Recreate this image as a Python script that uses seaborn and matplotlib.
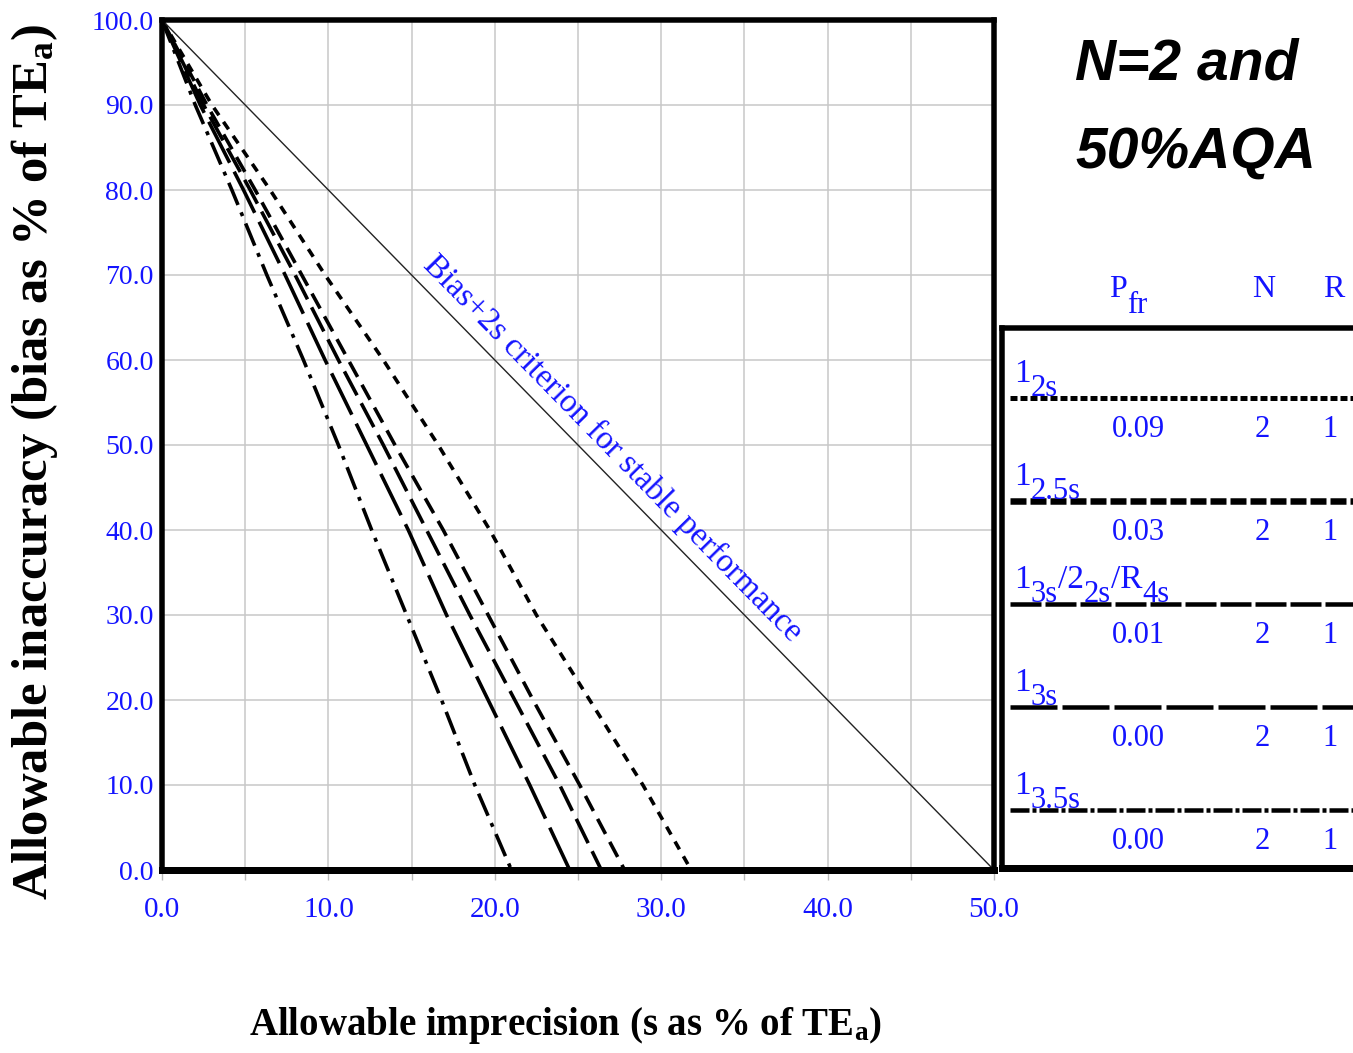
import matplotlib
matplotlib.use("Agg")
import matplotlib.pyplot as plt
import seaborn as sns
import numpy as np
import pandas as pd
from matplotlib.ticker import MultipleLocator, FormatStrFormatter

# ---------------- data ----------------
y_levels = [100, 90, 80, 70, 60, 50, 40, 30, 20, 10, 0]
x_12s    = [0, 3.0, 6.5, 9.8, 13.3, 16.6, 19.7, 22.5, 25.7, 28.9, 31.8]
x_125s   = [0, 2.7, 5.6, 8.4, 11.2, 14.0, 16.9, 19.6, 22.3, 25.1, 27.8]
x_multi  = [0, 2.5, 5.3, 8.0, 10.6, 13.3, 15.9, 18.5, 21.2, 23.9, 26.4]
x_13s    = [0, 2.3, 4.9, 7.4, 9.8, 12.3, 14.8, 17.1, 19.6, 22.1, 24.5]
x_135s   = [0, 2.0, 4.2, 6.3, 8.5, 10.6, 12.6, 14.7, 16.8, 18.8, 21.0]

bias_x = [0, 50]
bias_y = [100, 0]

rule_labels = [
    [("1", False), ("2s", True)],
    [("1", False), ("2.5s", True)],
    [("1", False), ("3s", True), ("/2", False), ("2s", True), ("/R", False), ("4s", True)],
    [("1", False), ("3s", True)],
    [("1", False), ("3.5s", True)],
]
pfr_vals = ["0.09", "0.03", "0.01", "0.00", "0.00"]
n_vals = ["2", "2", "2", "2", "2"]
r_vals = ["1", "1", "1", "1", "1"]

x_ticks = [0, 10, 20, 30, 40, 50]
y_ticks = [0, 10, 20, 30, 40, 50, 60, 70, 80, 90, 100]

# ---------------- style ----------------
sns.set_theme(style="white")
plt.rcParams["font.family"] = ["Liberation Serif", "DejaVu Serif"]
plt.rcParams["mathtext.fontset"] = "custom"
plt.rcParams["mathtext.rm"] = "Liberation Serif"
plt.rcParams["mathtext.bf"] = "Liberation Serif:bold"
plt.rcParams["mathtext.it"] = "Liberation Serif:italic"
plt.rcParams["lines.scale_dashes"] = False

BLUE = "#1414ff"
GRID = "#c8c8c8"
PX = 72 / 100.0  # points per pixel

W, H = 1353, 1053
fig = plt.figure(figsize=(W / 100, H / 100), dpi=100)
fig.patch.set_facecolor("white")

ax = fig.add_axes([162 / W, 1 - 870 / H, (994 - 162) / W, (870 - 20) / H])

series = [
    (x_12s,   (0, (9 * PX, 8 * PX))),
    (x_125s,  (0, (17 * PX, 9 * PX))),
    (x_multi, (0, (27 * PX, 9 * PX))),
    (x_13s,   (0, (46 * PX, 10 * PX))),
    (x_135s,  (0, (24 * PX, 8 * PX, 4 * PX, 8 * PX))),
]
for xs, ls in series:
    sns.lineplot(x=xs, y=y_levels, ax=ax, color="black", lw=3.6 * PX,
                 linestyle=ls, sort=False, estimator=None)

sns.lineplot(x=bias_x, y=bias_y, ax=ax, color="#222222", lw=1.0,
             sort=False, estimator=None)

ax.set_xlim(0, 50)
ax.set_ylim(0, 100)
ax.set_xticks(x_ticks)
ax.xaxis.set_minor_locator(MultipleLocator(5))
ax.set_yticks(y_ticks)
ax.xaxis.set_major_formatter(FormatStrFormatter("%.1f"))
ax.yaxis.set_major_formatter(FormatStrFormatter("%.1f"))
ax.grid(which="both", axis="x", color=GRID, lw=1.1)
ax.grid(which="major", axis="y", color=GRID, lw=1.1)
ax.set_axisbelow(True)
ax.tick_params(axis="x", which="both", bottom=True, direction="out",
               length=10 * PX, width=1.0, color="#b8b8b8",
               labelcolor=BLUE, labelsize=21, pad=12)
ax.tick_params(axis="y", which="both", left=False, length=0,
               labelcolor=BLUE, labelsize=20, pad=6)
ax.set_xlabel("")
ax.set_ylabel("")
for s in ax.spines.values():
    s.set_visible(True)
    s.set_color("black")
    s.set_linewidth(5.5 * PX)
ax.spines["bottom"].set_linewidth(7 * PX)

ax.text(27.1, 49.6, "Bias+2s criterion for stable performance",
        rotation=-45.6, rotation_mode="anchor", ha="center", va="center",
        color=BLUE, fontsize=23.5)

fig.text(35 / W, 1 - 462 / H, r"Allowable inaccuracy (bias as % of TE$_\mathbf{a}$)",
         rotation=90, ha="center", va="center", fontsize=36.5,
         fontweight="bold", color="black")
fig.text(565 / W, 1 - 1025 / H, r"Allowable imprecision (s as % of TE$_\mathbf{a}$)",
         ha="center", va="center", fontsize=28, fontweight="bold", color="black")

# ---------------- right panel (pixel-like coordinates) ----------------
ax2 = fig.add_axes([1002 / W, 1 - 868 / H, 400 / W, 540 / H])
ax2.set_xlim(1002, 1402)
ax2.set_ylim(868, 328)
ax2.set_xticks([])
ax2.set_yticks([])
for k, s in ax2.spines.items():
    s.set_color("black")
    s.set_linewidth(5.5 * PX)
ax2.spines["right"].set_visible(False)
ax2.spines["bottom"].set_linewidth(7 * PX)

leg_styles = [
    ((0, (7 * PX, 3 * PX)), 5.0),
    ((0, (16 * PX, 4 * PX)), 6.5),
    ((0, (31 * PX, 4 * PX)), 4.5),
    ((0, (47 * PX, 5 * PX)), 4.5),
    ((0, (19 * PX, 3 * PX, 4 * PX, 3 * PX)), 4.5),
]

renderer = fig.canvas.get_renderer()

def rich(x, y, pieces, size_main, size_sub, sub_drop):
    for txt, sub in pieces:
        t = ax2.text(x, y + (sub_drop if sub else 0), txt, ha="left", va="baseline",
                     color=BLUE, fontsize=size_sub if sub else size_main,
                     clip_on=False)
        bb = t.get_window_extent(renderer=renderer)
        x += bb.width

row0 = 398
step = 103
for i in range(5):
    ly = row0 + step * i
    ls, lw = leg_styles[i]
    ax2.plot([1010, 1402], [ly, ly], color="black", lw=lw * PX, linestyle=ls,
             solid_capstyle="butt", dash_capstyle="butt")
    rich(1014, ly - 16, rule_labels[i], 24, 22, 14)
    ax2.text(1138, ly + 39, pfr_vals[i], ha="center", va="baseline", color=BLUE,
             fontsize=22, clip_on=False)
    ax2.text(1262, ly + 39, n_vals[i], ha="center", va="baseline", color=BLUE,
             fontsize=22, clip_on=False)
    ax2.text(1330, ly + 39, r_vals[i], ha="center", va="baseline", color=BLUE,
             fontsize=22, clip_on=False)

# header
rich(1109, 297, [("P", False), ("fr", True)], 23, 22, 16)
ax2.text(1264, 297, "N", ha="center", va="baseline", color=BLUE, fontsize=23, clip_on=False)
ax2.text(1334, 297, "R", ha="center", va="baseline", color=BLUE, fontsize=23, clip_on=False)

# title
for txt, yb in [("N=2 and", 80), ("50%AQA", 168)]:
    ax2.text(1075, yb, txt, ha="left", va="baseline", fontsize=41,
             fontweight="bold", fontstyle="italic",
             family=["Liberation Sans", "DejaVu Sans"],
             color="black", clip_on=False)

fig.savefig("out.png", dpi=100, facecolor="white")
